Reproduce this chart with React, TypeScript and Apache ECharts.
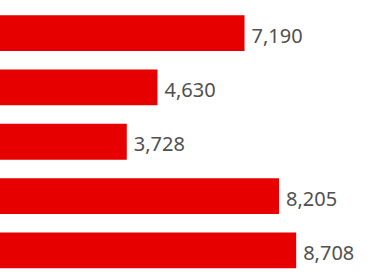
import React, { useEffect, useRef } from "react";
import * as echarts from "echarts";

const categories = ["A", "B", "C", "D", "E"];
const values = [7190, 4630, 3728, 8205, 8708];

export default function App() {
  const ref = useRef<HTMLDivElement>(null);
  useEffect(() => {
    if (!ref.current) return;
    const chart = echarts.init(ref.current, null, { renderer: "svg" });
    chart.setOption({
      animation: false,
      grid: { left: -1.3, right: 376 - 340.1, top: 6, bottom: 0.5, containLabel: false },
      xAxis: { type: "value", min: 0, max: 10000, show: false },
      yAxis: { type: "category", data: categories, inverse: true, show: false },
      series: [
        {
          type: "bar",
          data: values,
          barCategoryGap: "34%",
          itemStyle: { color: "#e60000" },
          label: {
            show: true,
            position: "right",
            distance: 7,
            fontFamily: "Noto Sans",
            fontSize: 20,
            color: "#505050",
            offset: [0, 2],
            formatter: (p: any) => Number(p.value).toLocaleString("en-US"),
          },
        },
      ],
    });
    return () => chart.dispose();
  }, []);
  return (
    <div
      ref={ref}
      style={{ position: "absolute", left: 0, top: 0, width: 376, height: 278 }}
    />
  );
}
